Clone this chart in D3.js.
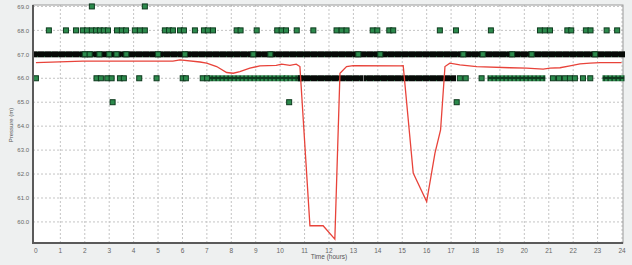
<!DOCTYPE html>
<html><head><meta charset="utf-8">
<script src="https://cdn.jsdelivr.net/npm/d3@7"></script>
<style>html,body{margin:0;padding:0;background:#eef0f0;}svg{display:block;}</style>
</head><body>
<script>
// ---- data ----
const xTicks = d3.range(0, 25);
const yTickValues = [69, 68, 67, 66, 65, 64, 63, 62, 61, 60];
const yTickLabels = ["69.0","68.0","67.0","66.0","65.0","64.0","63.0","62.0","61.0","60.0"];

// isolated pressure readings (hour) at each measured level (m)
const obs69 = [2.29, 4.46];
const obs68 = [0.53, 1.23, 1.64, 1.92, 2.09, 2.29, 2.46, 2.62, 2.78, 2.95, 3.32, 3.52, 3.69,
  4.05, 4.26, 4.46, 5.28, 5.45, 5.61, 5.90, 6.06, 6.51, 6.88, 7.04, 7.25, 8.22, 8.38, 9.04,
  9.88, 10.06, 10.24, 10.68, 11.36, 12.31, 12.52, 12.72, 13.79, 13.98, 14.47, 14.63,
  16.54, 17.20, 18.63, 20.64, 20.84, 21.05, 21.76, 21.92, 22.52, 22.71, 23.37, 23.80];
const obs67 = [2.0, 2.2, 2.6, 3.0, 3.3, 3.7, 5.0, 6.1, 8.9, 9.6, 13.2, 14.1, 17.5, 18.3, 19.5, 20.3, 22.9];
const obs66 = [0.0, 2.48, 2.66, 2.92, 3.10, 3.44, 3.60, 4.23, 4.94, 6.01, 6.14, 6.83, 7.01,
  17.36, 17.60, 18.25, 21.17, 21.42, 21.66, 21.87, 22.07, 22.40, 22.70];
const obs65 = [3.14, 10.37, 17.23];
// continuous runs of readings: [level, start hour, end hour, kind]
const runLevel = [67, 66, 66, 66, 66, 66, 66];
const runStart = [-0.05, 7.15, 10.27, 10.82, 13.52, 18.59, 23.30];
const runEnd   = [24.02, 10.12, 10.82, 13.30, 17.10, 20.76, 24.00];
const runKind  = ["black", "green", "green", "black", "black", "green", "green"];

// modelled pressure (red line)
const modelHour = [0.0, 1.92, 5.61, 5.90, 6.72, 6.99, 7.40, 7.81, 8.08, 8.35, 8.76, 9.17, 9.84, 10.06,
  10.40, 10.66, 10.81, 11.22, 11.76, 12.24, 12.45, 12.72, 12.99, 14.91, 15.04, 15.45, 15.52,
  16.00, 16.34, 16.57, 16.75, 16.95, 17.36, 18.05, 19.41, 20.09, 20.77, 21.05, 21.46, 21.87,
  22.28, 22.69, 23.10, 23.98];
const modelValue = [66.65, 66.72, 66.72, 66.77, 66.68, 66.63, 66.49, 66.24, 66.21, 66.28, 66.42, 66.52,
  66.54, 66.59, 66.54, 66.59, 66.49, 59.84, 59.84, 59.28, 66.21, 66.49, 66.53, 66.52, 66.53,
  62.04, 61.89, 60.85, 62.87, 63.84, 66.49, 66.63, 66.56, 66.49, 66.44, 66.42, 66.38, 66.42,
  66.44, 66.52, 66.60, 66.63, 66.65, 66.65];

// ---- drawing ----
const W = 632, H = 265;
const svg = d3.select("body").append("svg").attr("width", W).attr("height", H);
const x = d3.scaleLinear().domain([-0.12, 24.04]).range([33, 623]);
const y = d3.scaleLinear().domain([59.12, 69.06]).range([243, 5]);

const defs = svg.append("defs");
const pg = defs.append("pattern").attr("id", "pGreen").attr("patternUnits", "userSpaceOnUse")
  .attr("width", 4).attr("height", 6);
pg.append("rect").attr("width", 4).attr("height", 6).attr("fill", "#0e3a1e");
pg.append("rect").attr("x", 0.8).attr("y", 1).attr("width", 2.6).attr("height", 4).attr("fill", "#2c8a4c");
const pb = defs.append("pattern").attr("id", "pBlack").attr("patternUnits", "userSpaceOnUse")
  .attr("width", 7).attr("height", 6);
pb.append("rect").attr("width", 7).attr("height", 6).attr("fill", "#060a07");
pb.append("rect").attr("x", 2).attr("y", 2).attr("width", 1).attr("height", 2).attr("fill", "#1d5030");

// plot background
svg.append("rect").attr("x", 33).attr("y", 5).attr("width", 590).attr("height", 238).attr("fill", "#fff");

// grid
const grid = svg.append("g");
grid.selectAll(".vg").data(xTicks.filter(d => d > 0)).join("line")
  .attr("x1", d => x(d)).attr("x2", d => x(d)).attr("y1", 5).attr("y2", 243)
  .attr("stroke", "#c4c4c4").attr("stroke-width", 1).attr("stroke-dasharray", "2,2");
grid.selectAll(".hg").data(yTickValues).join("line")
  .attr("x1", 33).attr("x2", 623).attr("y1", d => y(d)).attr("y2", d => y(d))
  .attr("stroke", "#c4c4c4").attr("stroke-width", 1).attr("stroke-dasharray", "2,2");

// border
svg.append("rect").attr("x", 33).attr("y", 5).attr("width", 590).attr("height", 238)
  .attr("fill", "none").attr("stroke", "#9a9a9a").attr("stroke-width", 1);

// runs
svg.append("g").selectAll("rect").data(runLevel.map((l, i) => i)).join("rect")
  .attr("x", i => x(runStart[i]) - 2.5)
  .attr("width", i => x(runEnd[i]) - x(runStart[i]) + 5)
  .attr("y", i => y(runLevel[i]) - 3).attr("height", 6)
  .attr("fill", i => runKind[i] === "green" ? "url(#pGreen)" : "url(#pBlack)");

// isolated readings
const pts = [].concat(
  obs69.map(h => [h, 69]), obs68.map(h => [h, 68]), obs67.map(h => [h, 67]),
  obs66.map(h => [h, 66]), obs65.map(h => [h, 65]));
svg.append("g").selectAll("rect").data(pts).join("rect")
  .attr("x", d => x(d[0]) - 2.5).attr("y", d => y(d[1]) - 2.5)
  .attr("width", 5).attr("height", 5)
  .attr("fill", "#2c8a4c").attr("stroke", "#0e3a1e").attr("stroke-width", 1);

// model line
svg.append("path")
  .datum(modelHour.map((h, i) => [h, modelValue[i]]))
  .attr("fill", "none").attr("stroke", "#e8433a").attr("stroke-width", 1.3)
  .attr("d", d3.line().x(d => x(d[0])).y(d => y(d[1])));

// axes lines
svg.append("line").attr("x1", 33).attr("x2", 33).attr("y1", 5).attr("y2", 244)
  .attr("stroke", "#5a5a5a").attr("stroke-width", 2);
svg.append("line").attr("x1", 32).attr("x2", 623).attr("y1", 243).attr("y2", 243)
  .attr("stroke", "#5a5a5a").attr("stroke-width", 2);

// tick labels
const font = "Liberation Sans, Arial, sans-serif";
svg.append("g").selectAll("text").data(xTicks).join("text")
  .attr("x", d => x(d)).attr("y", 253).attr("text-anchor", "middle")
  .attr("font-family", font).attr("font-size", 6.5).attr("fill", "#666").text(d => d);
svg.append("g").selectAll("text").data(yTickValues).join("text")
  .attr("x", 29).attr("y", d => y(d) + 2.2).attr("text-anchor", "end")
  .attr("font-family", font).attr("font-size", 6).attr("fill", "#666")
  .text((d, i) => yTickLabels[i]);

svg.append("text").attr("x", 329).attr("y", 259).attr("text-anchor", "middle")
  .attr("font-family", font).attr("font-size", 6.5).attr("fill", "#555").text("Time (hours)");
svg.append("text").attr("transform", "translate(13,125) rotate(-90)").attr("text-anchor", "middle")
  .attr("font-family", font).attr("font-size", 6).attr("fill", "#555").text("Pressure (m)");
</script>
</body></html>
